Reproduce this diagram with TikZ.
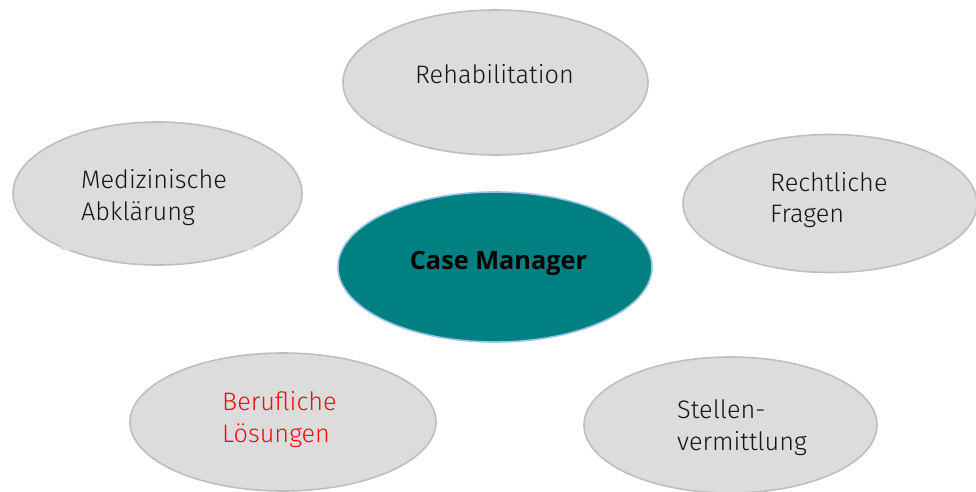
\documentclass[tikz,border=0pt]{standalone}
\usepackage{fontspec}
\setmainfont{Open Sans}
\newfontfamily\lightfont{Fira Sans Light}
\usetikzlibrary{shapes.geometric}
\definecolor{bubblefill}{RGB}{220,220,220}
\definecolor{bubbleline}{RGB}{190,190,190}
\definecolor{cmfill}{RGB}{0,128,128}
\definecolor{cmline}{RGB}{150,195,235}
\definecolor{redtext}{RGB}{252,8,8}
\definecolor{textgray}{RGB}{20,20,20}
\tikzset{
  bubble/.style={ellipse, draw=bubbleline, fill=bubblefill, line width=1.6pt, inner sep=0pt},
  cmbubble/.style={ellipse, draw=cmline, fill=cmfill, line width=1.6pt, inner sep=0pt},
  lbl/.style={inner sep=0pt, anchor=base west, font=\lightfont\fontsize{25.3}{30}\selectfont, text=textgray},
  cmlbl/.style={inner sep=0pt, anchor=base, font=\bfseries\fontsize{25.3}{30}\selectfont, text=black}
}
\begin{document}
\begin{tikzpicture}[x=1pt, y=-1pt]
\useasboundingbox (0,0) rectangle (976,492);
\fill[white] (0,0) rectangle (976,492);
\begin{scope}
\clip (0,0) rectangle (976,492);
\node[bubble, minimum width=305pt, minimum height=145pt] (reha) at (495.5,82.5) {};
\node[bubble, minimum width=289pt, minimum height=143pt] (med) at (157.5,193.5) {};
\fill[bubblefill] (61,238) rectangle (253,250);
\node[bubble, minimum width=294pt, minimum height=138pt] (recht) at (830,203.5) {};
\node[cmbubble, minimum width=314pt, minimum height=150pt] (cm) at (495,267) {};
\node[bubble, minimum width=306pt, minimum height=138pt] (beruf) at (283,422) {};
\node[bubble, minimum width=293pt, minimum height=136pt] (stellen) at (730.5,425) {};
\end{scope}
\node[lbl, anchor=base] (rehat) at (494.5,84) {Rehabilitation};
\node[lbl] (medt1) at (81,188) {Medizinische};
\node[lbl] (medt2) at (81,220) {Abklärung};
\node[lbl] (rechtt1) at (770,191) {Rechtliche};
\node[lbl] (rechtt2) at (770,222) {Fragen};
\node[cmlbl] (cmt) at (498.5,269) {Case Manager};
\node[lbl, text=redtext] (beruft1) at (222,410) {Berufliche};
\node[lbl, text=redtext] (beruft2) at (222,442) {Lösungen};
\node[lbl] (stellent1) at (677,418) {Stellen-};
\node[lbl] (stellent2) at (677,450) {vermittlung};
\end{tikzpicture}
\end{document}
